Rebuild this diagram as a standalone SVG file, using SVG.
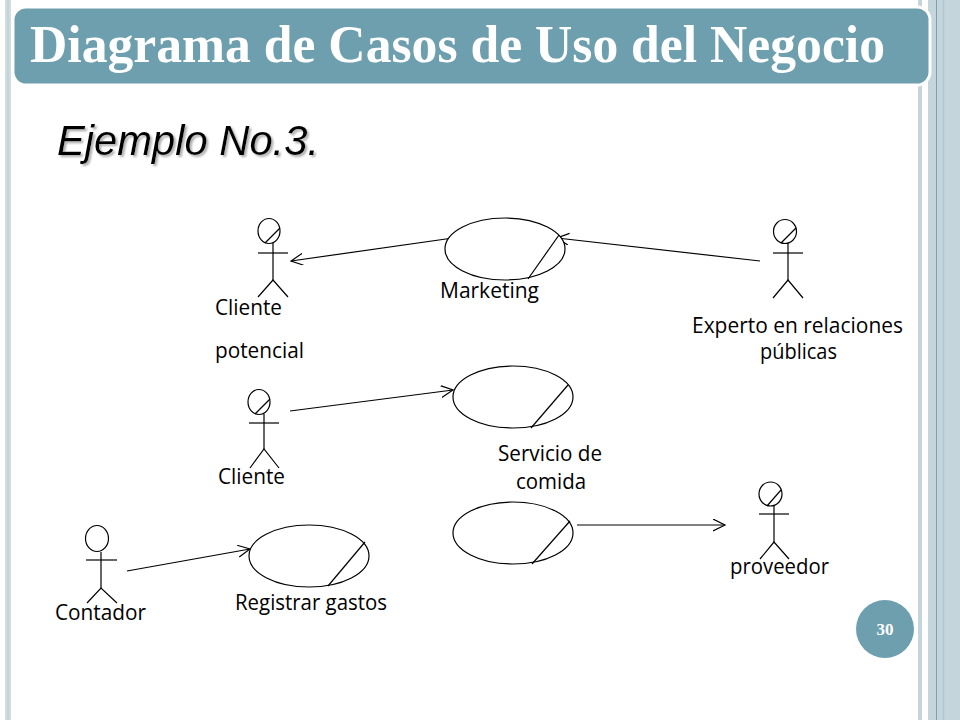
<svg xmlns="http://www.w3.org/2000/svg" width="960" height="720" viewBox="0 0 960 720">
<defs>
<style>
.lbl{font-family:"Open Sans","Liberation Sans",sans-serif;font-size:21px;fill:#000}
.ln{stroke:#000;stroke-width:1.2;fill:none}
.uc{stroke:#000;stroke-width:1.2;fill:#fff}
</style>
<marker id="arr" markerUnits="userSpaceOnUse" markerWidth="16" markerHeight="14" refX="12" refY="6" orient="auto">
<path d="M0,0 L12,6 L0,12" fill="none" stroke="#000" stroke-width="1.2"/>
</marker>
<filter id="shadow" x="-5%" y="-20%" width="115%" height="150%">
<feDropShadow dx="2" dy="2" stdDeviation="0.8" flood-color="#999" flood-opacity="0.8"/>
</filter>
</defs>
<rect width="960" height="720" fill="#fff"/>
<!-- borders -->
<rect x="5" y="0" width="6" height="720" fill="#cfdde3"/>
<line x1="8" y1="0" x2="8" y2="720" stroke="#b7cad2" stroke-width="1"/>
<rect x="918" y="0" width="4" height="720" fill="#c5d5dc"/>
<rect x="928" y="0" width="32" height="720" fill="#c4d5dc"/>
<line x1="936.5" y1="0" x2="936.5" y2="720" stroke="#7fa0b0" stroke-width="1"/>
<line x1="943.5" y1="0" x2="943.5" y2="720" stroke="#b3c8d1" stroke-width="1.5"/>
<!-- title bar -->
<rect x="13" y="7" width="917" height="78" rx="13" fill="#6d9fae" stroke="#fff" stroke-width="3"/>
<text x="30" y="62" font-family="Liberation Serif,serif" font-weight="bold" font-size="52" fill="#fff" textLength="855" lengthAdjust="spacingAndGlyphs">Diagrama de Casos de Uso del Negocio</text>
<text x="57" y="155" font-family="Liberation Sans,sans-serif" font-style="italic" font-size="42" fill="#000" textLength="262" lengthAdjust="spacingAndGlyphs" filter="url(#shadow)">Ejemplo No.3.</text>
<!-- connectors -->
<g id="connectors" class="ln">
<line x1="453" y1="238" x2="291" y2="261" marker-end="url(#arr)"/>
<line x1="760" y1="261" x2="557" y2="238" marker-end="url(#arr)"/>
<line x1="290" y1="411" x2="453" y2="390" marker-end="url(#arr)"/>
<line x1="127" y1="571" x2="250" y2="549" marker-end="url(#arr)"/>
<line x1="577" y1="525" x2="725" y2="525" marker-end="url(#arr)"/>
</g>
<!-- use cases -->
<g id="uc-marketing">
<ellipse class="uc" cx="505" cy="249" rx="60" ry="31"/>
<line class="ln" x1="528" y1="279" x2="559" y2="235"/>
<text class="lbl" x="440" y="298" textLength="99" lengthAdjust="spacingAndGlyphs">Marketing</text>
</g>
<g id="uc-servicio">
<ellipse class="uc" cx="513" cy="397" rx="60" ry="31"/>
<line class="ln" x1="531" y1="428" x2="568" y2="385"/>
<text class="lbl" x="498" y="461" textLength="104" lengthAdjust="spacingAndGlyphs">Servicio de</text>
<text class="lbl" x="516" y="489" textLength="70" lengthAdjust="spacingAndGlyphs">comida</text>
</g>
<g id="uc-proveedor">
<ellipse class="uc" cx="513" cy="533" rx="60" ry="31"/>
<line class="ln" x1="532" y1="564" x2="570" y2="521"/>
</g>
<g id="uc-registrar">
<ellipse class="uc" cx="309" cy="556" rx="60" ry="31"/>
<line class="ln" x1="328" y1="586" x2="365" y2="542"/>
<text class="lbl" x="235" y="610" textLength="152" lengthAdjust="spacingAndGlyphs">Registrar gastos</text>
</g>
<!-- actors -->
<g id="actor-cliente-potencial" class="ln">
<ellipse cx="269" cy="231" rx="11" ry="12.5" fill="#fff"/>
<line x1="265" y1="243" x2="280" y2="228"/>
<line x1="273" y1="243" x2="273" y2="280"/>
<line x1="258" y1="253" x2="288" y2="253"/>
<polyline points="258,297 273,280 288,297"/>
<text class="lbl" x="215" y="315" textLength="67" lengthAdjust="spacingAndGlyphs" stroke="none">Cliente</text>
<text class="lbl" x="215" y="358" textLength="89" lengthAdjust="spacingAndGlyphs" stroke="none">potencial</text>
</g>
<g id="actor-experto" class="ln">
<ellipse cx="785" cy="231.5" rx="11.5" ry="12" fill="#fff"/>
<line x1="781" y1="243" x2="796" y2="228"/>
<line x1="788" y1="243" x2="788" y2="280"/>
<line x1="773" y1="253" x2="803" y2="253"/>
<polyline points="773,298 788,280 803,298"/>
<text class="lbl" x="692" y="333" textLength="211" lengthAdjust="spacingAndGlyphs" stroke="none">Experto en relaciones</text>
<text class="lbl" x="760" y="359" textLength="77" lengthAdjust="spacingAndGlyphs" stroke="none">públicas</text>
</g>
<g id="actor-cliente" class="ln">
<ellipse cx="259" cy="402" rx="11" ry="12.5" fill="#fff"/>
<line x1="255" y1="414" x2="270" y2="399"/>
<line x1="264" y1="414" x2="264" y2="449"/>
<line x1="249" y1="423" x2="279" y2="423"/>
<polyline points="250,468 264,449 279,468"/>
<text class="lbl" x="218" y="484" textLength="67" lengthAdjust="spacingAndGlyphs" stroke="none">Cliente</text>
</g>
<g id="actor-contador" class="ln">
<ellipse cx="97" cy="538.5" rx="11.5" ry="13" fill="#fff"/>
<line x1="101" y1="552" x2="101" y2="588"/>
<line x1="86" y1="560" x2="117" y2="560"/>
<polyline points="87,603 101,588 117,603"/>
<text class="lbl" x="55" y="620" textLength="91" lengthAdjust="spacingAndGlyphs" stroke="none">Contador</text>
</g>
<g id="actor-proveedor" class="ln">
<ellipse cx="770.5" cy="494" rx="11.5" ry="12" fill="#fff"/>
<line x1="767" y1="506" x2="781" y2="490"/>
<line x1="774" y1="506" x2="774" y2="542"/>
<line x1="759" y1="514" x2="789" y2="514"/>
<polyline points="760,559 774,542 789,559"/>
<text class="lbl" x="730" y="574" textLength="99" lengthAdjust="spacingAndGlyphs" stroke="none">proveedor</text>
</g>
<!-- page number -->
<g id="page-number">
<circle cx="885" cy="629" r="29" fill="#6d9fae"/>
<text x="885" y="635" text-anchor="middle" font-family="Liberation Serif,serif" font-weight="bold" font-size="17" fill="#fff">30</text>
</g>
</svg>
